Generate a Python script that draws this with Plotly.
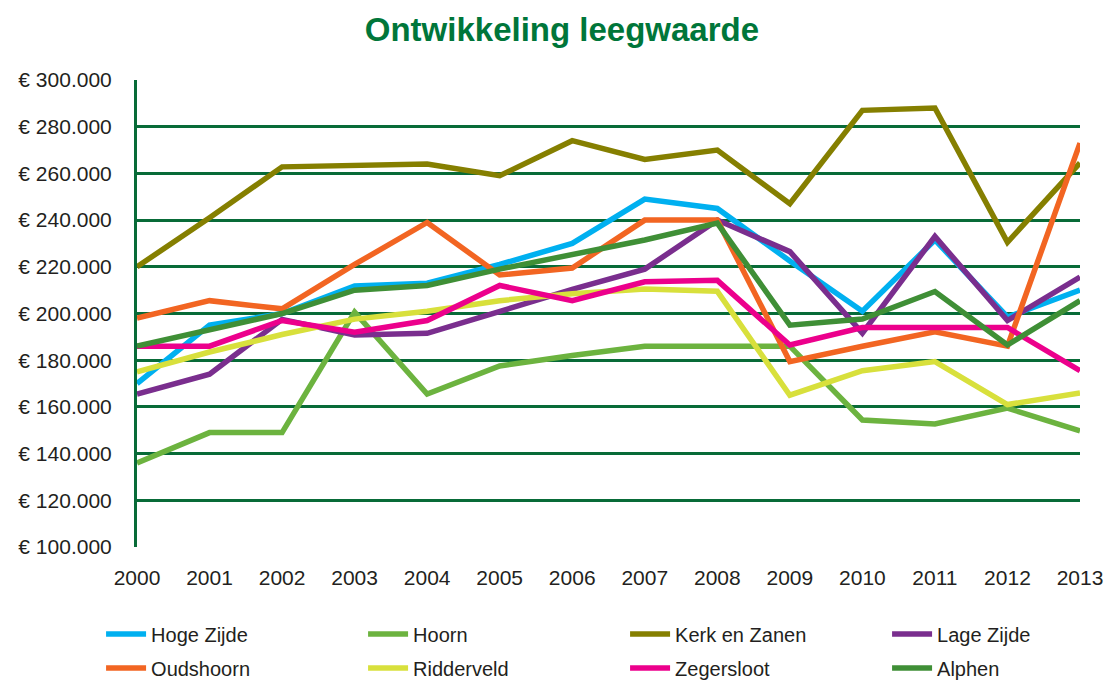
import plotly.graph_objects as go

years = list(range(2000, 2014))

hoge_zijde = [170000, 195000, 200000, 211800, 213000, 221000, 230000, 249000, 245000, 222500, 201000, 231500, 198500, 210000]
hoorn = [136000, 149000, 149000, 200600, 165500, 177500, 182000, 186000, 186000, 186000, 154400, 152700, 159500, 149700]
kerk_en_zanen = [220000, 241000, 262800, 263500, 264000, 259000, 274000, 266000, 270000, 247000, 287000, 288000, 230500, 264500]
lage_zijde = [165500, 174000, 197500, 190800, 191500, 201000, 210300, 219000, 240000, 226500, 191600, 233000, 197000, 215600]
oudshoorn = [198000, 205500, 202000, 221000, 239000, 216500, 219500, 240000, 240000, 179400, 186000, 192200, 186000, 273000]
ridderveld = [175000, 183500, 191000, 197600, 201000, 205500, 208500, 210500, 209500, 165000, 175500, 179400, 161000, 166000]
zegersloot = [186000, 186000, 197000, 192000, 197000, 212000, 205500, 213600, 214200, 186500, 194000, 194000, 194000, 175500]
alphen = [186000, 193000, 200000, 210000, 212000, 219000, 225000, 231500, 238700, 195000, 197600, 209400, 186500, 205500]

series_names = ["Hoge Zijde", "Hoorn", "Kerk en Zanen", "Lage Zijde",
                "Oudshoorn", "Ridderveld", "Zegersloot", "Alphen"]
series_values = [hoge_zijde, hoorn, kerk_en_zanen, lage_zijde,
                 oudshoorn, ridderveld, zegersloot, alphen]
series_colors = ["#00B0F0", "#6CB33F", "#857F00", "#7A2E8E",
                 "#F26522", "#D8E03C", "#EC008C", "#3F8F36"]

y_tickvals = [100000, 120000, 140000, 160000, 180000, 200000, 220000, 240000, 260000, 280000, 300000]
y_ticktext = ["€ 100.000", "€ 120.000", "€ 140.000", "€ 160.000", "€ 180.000", "€ 200.000",
              "€ 220.000", "€ 240.000", "€ 260.000", "€ 280.000", "€ 300.000"]

fig = go.Figure()
for i, (name, vals, col) in enumerate(zip(series_names, series_values, series_colors)):
    fig.add_trace(go.Scatter(x=years, y=vals, mode="lines", name=name,
                             line=dict(color=col, width=5.5),
                             legend="legend" if i < 4 else "legend2"))

grid_col = "#086B38"
legend_common = dict(orientation="h", x=-0.0381, xanchor="left", yanchor="middle",
                     entrywidth=207, entrywidthmode="pixels", itemwidth=40,
                     font=dict(size=20, color="#231F20"), bgcolor="rgba(0,0,0,0)")
fig.update_layout(
    width=1104, height=680,
    paper_bgcolor="white", plot_bgcolor="white",
    margin=dict(l=137, r=24, t=80, b=133, autoexpand=False),
    font=dict(family="Liberation Sans, Arial, sans-serif", size=21, color="#231F20"),
    title=dict(text="<b>Ontwikkeling leegwaarde</b>", x=0.509, xanchor="center",
               y=0.956, yanchor="middle",
               font=dict(family="Liberation Sans, Arial, sans-serif", size=33, color="#00763A")),
    xaxis=dict(range=[2000, 2013], tickvals=years, ticktext=[str(y) for y in years],
               showgrid=False, zeroline=False, showline=False, ticks="",
               ticklabelstandoff=16, fixedrange=True),
    yaxis=dict(range=[100000, 300000], tickvals=y_tickvals, ticktext=y_ticktext,
               showgrid=True, gridcolor=grid_col, gridwidth=3, zeroline=False,
               showline=True, linecolor=grid_col, linewidth=3, ticks="",
               ticklabelstandoff=18, fixedrange=True),
    legend=dict(y=(547 - 634) / 467, **legend_common),
    legend2=dict(y=(547 - 668) / 467, **legend_common),
    showlegend=True,
)

fig.write_html("out.html", config={"displayModeBar": False},
               post_script="document.body.style.margin='0';document.body.style.overflow='hidden';")
